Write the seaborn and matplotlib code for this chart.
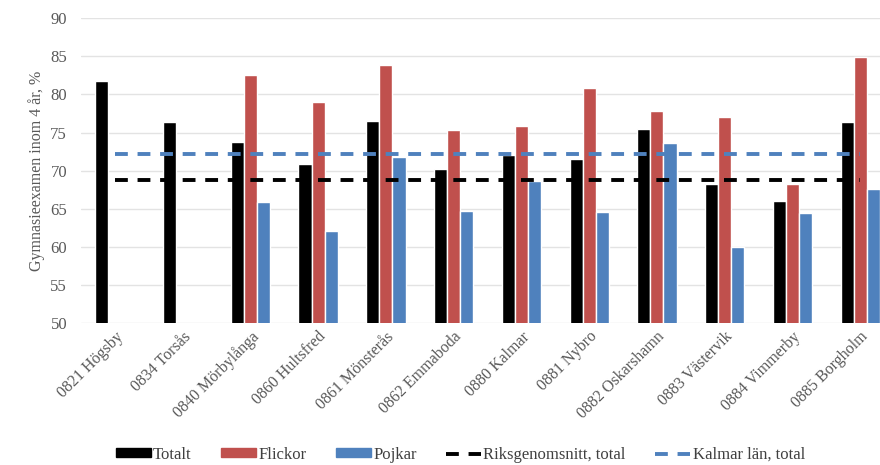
import pandas as pd
import seaborn as sns
import matplotlib.pyplot as plt
from matplotlib.patches import Patch
from matplotlib.lines import Line2D

# Data
kommuner = ['0821 Högsby', '0834 Torsås', '0840 Mörbylånga', '0860 Hultsfred',
            '0861 Mönsterås', '0862 Emmaboda', '0880 Kalmar', '0881 Nybro',
            '0882 Oskarshamn', '0883 Västervik', '0884 Vimmerby', '0885 Borgholm']
totalt = [81.7, 76.4, 73.8, 70.9, 76.5, 70.2, 72.1, 71.5, 75.5, 68.2, 66.0, 76.4]
flickor = [None, None, 82.5, 79.0, 83.8, 75.3, 75.8, 80.9, 77.8, 77.1, 68.2, 84.9]
pojkar = [None, None, 65.9, 62.1, 71.8, 64.7, 68.6, 64.6, 73.6, 60.0, 64.4, 67.6]
riksgenomsnitt = 68.8
kalmar_lan = 72.2

serier = ['Totalt', 'Flickor', 'Pojkar']
farger = ['#000000', '#C0504D', '#4F81BD']

df = pd.DataFrame({'Kommun': kommuner, 'Totalt': totalt, 'Flickor': flickor, 'Pojkar': pojkar})
df_long = df.melt(id_vars='Kommun', var_name='Grupp', value_name='Andel').dropna()

sns.set_style('white')
plt.rcParams['font.family'] = ['Liberation Serif', 'DejaVu Serif']

fig = plt.figure(figsize=(8.8, 4.65), dpi=100)
ax = fig.add_axes([0.092, 0.305, 0.924, 0.656])

sns.barplot(data=df_long, x='Kommun', y='Andel', hue='Grupp', order=kommuner,
            hue_order=serier, palette=farger, errorbar=None, width=0.58,
            saturation=1, ax=ax, legend=False, zorder=2)

# Reference lines drawn on the same categorical scale
lin_df = pd.DataFrame({'Kommun': kommuner,
                       'Riks': [riksgenomsnitt] * len(kommuner),
                       'Lan': [kalmar_lan] * len(kommuner)})
streck = (3.3, 2.5)
sns.pointplot(data=lin_df, x='Kommun', y='Riks', order=kommuner, color='black',
              markers='', errorbar=None, ax=ax, linewidth=2.8, dashes=streck, zorder=3)
sns.pointplot(data=lin_df, x='Kommun', y='Lan', order=kommuner, color='#4F81BD',
              markers='', errorbar=None, ax=ax, linewidth=2.8, dashes=streck, zorder=3)

ax.set_ylim(50, 90)
ax.set_xlim(-0.5, 11.5)
ax.set_yticks(range(50, 91, 5))
ax.yaxis.grid(True, color='#E3E3E3', linewidth=1)
ax.set_axisbelow(True)
for s in ax.spines.values():
    s.set_visible(False)

ax.set_xlabel('')
ax.set_ylabel('Gymnasieexamen inom 4 år, %', fontsize=11.5, color='#595959', labelpad=4)
ax.tick_params(axis='y', labelsize=12, colors='#595959', length=0, pad=10)
ax.tick_params(axis='x', labelsize=11.5, colors='#595959', length=0, pad=4)
plt.setp(ax.get_xticklabels(), rotation=45, ha='right', rotation_mode='anchor')

handles = [Patch(color=farger[0]), Patch(color=farger[1]), Patch(color=farger[2]),
           Line2D([], [], color='black', linewidth=2.8, dashes=streck),
           Line2D([], [], color='#4F81BD', linewidth=2.8, dashes=streck)]
labels = ['Totalt', 'Flickor', 'Pojkar', 'Riksgenomsnitt, total', 'Kalmar län, total']
leg = fig.legend(handles, labels, loc='center', bbox_to_anchor=(0.523, 0.022), ncol=5,
                 frameon=False, fontsize=12, handlelength=2.1, handleheight=0.45,
                 handletextpad=0.15, columnspacing=1.75)
for t in leg.get_texts():
    t.set_color('#404040')

fig.savefig('out.png', dpi=100)
